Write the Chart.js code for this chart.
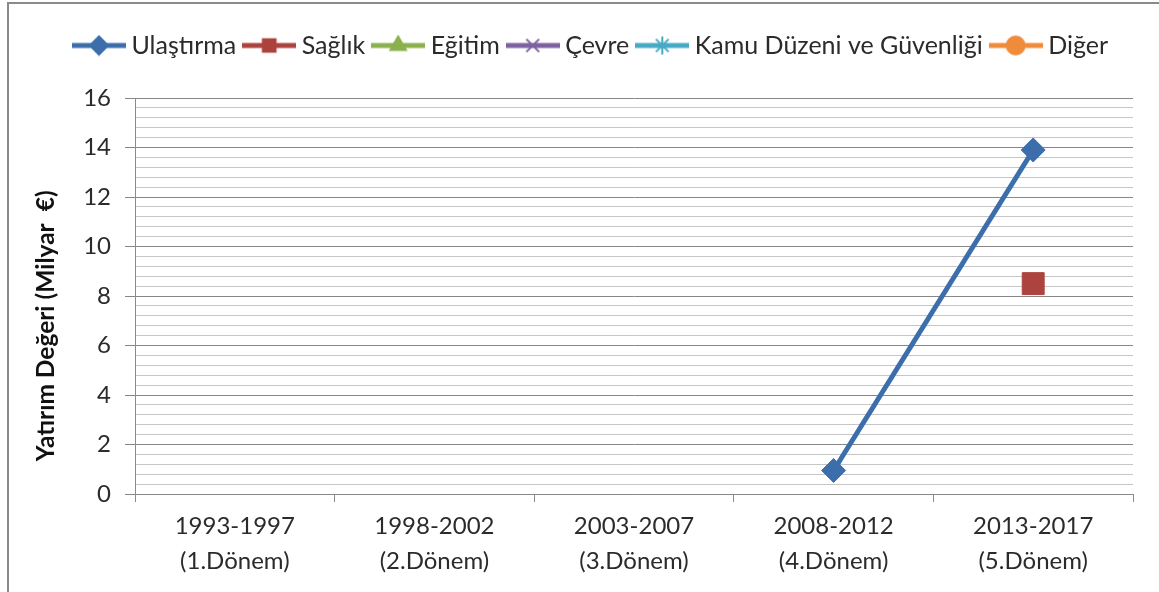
<!DOCTYPE html>
<html lang="tr">
<head>
<meta charset="utf-8">
<title>Yatırım Değeri</title>
<script src="https://cdn.jsdelivr.net/npm/chart.js@4.4.1/dist/chart.umd.min.js"></script>
<style>
    html, body { margin: 0; padding: 0; background: #fff; }
    .chart-wrap { position: relative; width: 1159px; height: 592px; overflow: hidden; }
    .chart-frame {
        position: absolute; left: 7px; top: 2px; width: 1200px; height: 700px;
        border-top: 2px solid #8a8a8a; border-left: 2px solid #8a8a8a;
    }
    #chartInvest { position: absolute; left: 0; top: 0; }
</style>
</head>
<body>
<div class="chart-wrap">
    <div class="chart-frame"></div>
    <canvas id="chartInvest" width="1159" height="592"></canvas>
</div>
<script>
var periods = [
    ['1993-1997', '(1.Dönem)'],
    ['1998-2002', '(2.Dönem)'],
    ['2003-2007', '(3.Dönem)'],
    ['2008-2012', '(4.Dönem)'],
    ['2013-2017', '(5.Dönem)']
];

var ulastirma = [null, null, null, 0.95, 13.9];
var saglik = [null, null, null, null, 8.5];
var egitim = [null, null, null, null, null];
var cevre = [null, null, null, null, null];
var kamuDuzeni = [null, null, null, null, null];
var diger = [null, null, null, null, null];

var yMin = 0;
var yMax = 16;
var yMajorStep = 2;
var yMinorStep = 0.4;

var FONT = 'Lato, "Open Sans", sans-serif';

function isMajor(v) {
    return Math.round(v * 10) % Math.round(yMajorStep * 10) === 0;
}

function makeLegendIcon(color, style) {
    var c = document.createElement('canvas');
    c.width = 54;
    c.height = 22;
    var ctx = c.getContext('2d');
    ctx.strokeStyle = color;
    ctx.lineWidth = 5;
    ctx.beginPath();
    ctx.moveTo(0, 11);
    ctx.lineTo(54, 11);
    ctx.stroke();
    ctx.fillStyle = color;
    ctx.lineWidth = 2;
    Chart.helpers.drawPoint(ctx, { pointStyle: style, radius: 9, rotation: 0, borderWidth: 1 }, 27, 11);
    return c;
}

// legend sits higher than Chart.js would put it, leave a gap under it
var legendGap = {
    id: 'legendGap',
    afterInit: function (chart) {
        var legend = chart.legend;
        if (!legend) return;
        var fit = legend.fit;
        legend.fit = function () {
            fit.call(this);
            this.height += 30;
        };
    },
    afterLayout: function (chart) {
        if (!chart.legend) return;
        chart.legend.left += 27;
        chart.legend.right += 27;
    }
};

function buildDataset(label, data, color, style, radius) {
    return {
        label: label,
        data: data,
        borderColor: color,
        backgroundColor: color,
        borderWidth: 5,
        pointStyle: style,
        pointRadius: radius,
        pointHoverRadius: radius,
        pointBackgroundColor: color,
        pointBorderColor: color,
        pointBorderWidth: 1,
        tension: 0,
        spanGaps: false,
        legendIcon: makeLegendIcon(color, style)
    };
}

document.addEventListener('DOMContentLoaded', function () {
    var ctx = document.getElementById('chartInvest');

    new Chart(ctx, {
        type: 'line',
        data: {
            labels: periods,
            datasets: [
                buildDataset('Ulaştırma', ulastirma, '#3c6eab', 'rectRot', 12),
                buildDataset('Sağlık', saglik, '#ad433e', 'rect', 15.5),
                buildDataset('Eğitim', egitim, '#8bb14f', 'triangle', 10),
                buildDataset('Çevre', cevre, '#7e62a0', 'crossRot', 10),
                buildDataset('Kamu Düzeni ve Güvenliği', kamuDuzeni, '#47a9c4', 'star', 10),
                buildDataset('Diğer', diger, '#ef8c3b', 'circle', 8)
            ]
        },
        plugins: [legendGap],
        options: {
            responsive: false,
            animation: false,
            layout: { padding: { top: 20, right: 26, bottom: 0, left: 0 } },
            plugins: {
                tooltip: { enabled: false },
                legend: {
                    position: 'top',
                    labels: {
                        usePointStyle: true,
                        pointStyleWidth: 40,
                        padding: 13,
                        color: '#2b2b2b',
                        font: { family: FONT, size: 25 },
                        generateLabels: function (chart) {
                            return chart.data.datasets.map(function (ds, i) {
                                return {
                                    text: ds.label,
                                    pointStyle: ds.legendIcon,
                                    fillStyle: ds.borderColor,
                                    strokeStyle: ds.borderColor,
                                    lineWidth: 0,
                                    fontColor: '#2b2b2b',
                                    hidden: false,
                                    datasetIndex: i
                                };
                            });
                        }
                    }
                }
            },
            scales: {
                x: {
                    type: 'category',
                    offset: true,
                    afterFit: function (scale) { scale.height = 98; },
                    grid: {
                        offset: true,
                        drawOnChartArea: false,
                        drawTicks: true,
                        tickLength: 8,
                        tickColor: '#8a8a8a'
                    },
                    border: { color: '#8a8a8a', width: 1 },
                    ticks: {
                        color: '#2b2b2b',
                        padding: 7,
                        maxRotation: 0,
                        autoSkip: false,
                        font: { family: FONT, size: 24, lineHeight: 1.46 }
                    }
                },
                y: {
                    min: yMin,
                    max: yMax,
                    afterFit: function (scale) { scale.width = 135; },
                    grid: {
                        color: function (c) { return isMajor(c.tick.value) ? '#878787' : '#c6c6c6'; },
                        tickColor: function (c) { return isMajor(c.tick.value) ? '#878787' : 'rgba(0,0,0,0)'; },
                        tickLength: 10,
                        lineWidth: 1
                    },
                    border: { color: '#8a8a8a', width: 1 },
                    ticks: {
                        stepSize: yMinorStep,
                        autoSkip: false,
                        padding: 14,
                        color: '#2b2b2b',
                        font: { family: FONT, size: 24 },
                        callback: function (v) { return isMajor(v) ? String(Math.round(v)) : ''; }
                    },
                    title: {
                        display: true,
                        // trailing spaces push the visible text a bit lower, as in the original
                        text: 'Yatırım Değeri (Milyar  €)          ',
                        color: '#111',
                        padding: { top: 31, bottom: 0 },
                        font: { family: FONT, size: 24.5, weight: 'bold' }
                    }
                }
            }
        }
    });
});
</script>
</body>
</html>
